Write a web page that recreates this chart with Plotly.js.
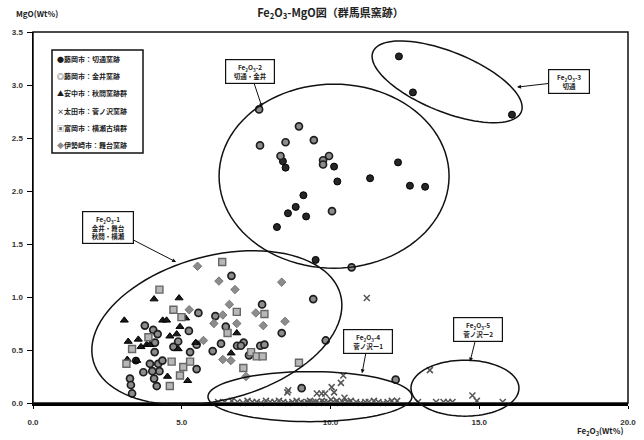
<!DOCTYPE html>
<html><head><meta charset="utf-8">
<script src="https://cdn.plot.ly/plotly-3.0.1.min.js"></script>
<style>html,body{margin:0;padding:0;background:#fff}#chart{width:644px;height:440px}</style>
</head><body><div id="chart"></div>
<script>
// ---- data (Fe2O3 wt%, MgO wt%) ----
const seriesNames = ["藤岡市：切通窯跡","藤岡市：金井窯跡","安中市：秋間窯跡群","太田市：菅ノ沢窯跡","富岡市：横瀬古墳群","伊勢崎市：舞台窯跡"];
const legendGlyphs = ["●","◎","▲","×","▣","◆"];
const legendGlyphColors = ["#1a1a1a","#1a1a1a","#1a1a1a","#444","#666","#8a8a8a"];

const kiridoshiX = [12.30,12.77,16.10,8.49,10.12,10.23,9.09,8.83,8.57,9.18,8.20,9.50,11.33,12.27,12.67,13.18,8.40,3.46];
const kiridoshiY = [3.27,2.93,2.72,2.22,2.23,2.09,1.96,1.85,1.79,1.76,1.66,1.35,2.12,2.27,2.05,2.04,2.28,0.40];

const kanaiX = [7.60,8.94,7.63,8.49,9.44,8.32,9.95,9.75,9.75,10.05,10.71,9.42,9.84,12.19,9.03,
  6.67,7.70,5.56,6.13,6.48,3.76,4.04,4.19,8.36,5.24,4.10,4.72,4.88,5.28,5.50,6.32,6.04,6.86,7.08,6.99,7.64,7.78,7.26,
  3.93,4.21,4.35,3.71,4.01,4.25,4.07,4.16,5.50,3.26,3.29,3.33,4.09];
const kanaiY = [2.77,2.61,2.43,2.46,2.48,2.33,2.33,2.29,2.25,1.81,1.28,0.98,0.59,0.22,0.14,
  1.20,0.93,0.85,0.82,0.72,0.73,0.69,0.65,0.66,0.68,0.57,0.53,0.58,0.48,0.55,0.56,0.49,0.54,0.57,0.54,0.54,0.55,0.45,
  0.37,0.37,0.40,0.29,0.30,0.30,0.23,0.16,0.32,0.23,0.17,0.09,0.48];

const akimaX = [3.07,4.07,4.91,4.36,4.49,3.20,3.54,3.63,3.82,3.17,3.49,4.94,4.60,5.20,4.52,5.47,5.13,3.93,4.83,4.88,6.85,6.66];
const akimaY = [0.78,0.98,0.99,0.78,0.78,0.58,0.60,0.53,0.55,0.41,0.40,0.72,0.63,0.21,0.25,0.57,0.80,0.55,0.65,0.51,0.66,0.47];

const sugenosawaX = [8.55,8.58,9.54,9.70,9.82,10.04,10.12,10.35,10.43,10.47,11.22,13.34,14.77,14.92,
  6.22,6.44,6.68,6.87,7.06,7.21,7.37,7.52,7.66,7.83,7.97,8.12,8.27,8.41,8.58,8.72,8.86,9.01,9.12,9.22,9.31,9.42,9.51,9.62,
  9.71,9.79,9.91,10.02,10.09,10.21,10.32,10.41,10.56,10.68,10.86,11.01,11.17,11.29,11.46,11.61,11.77,11.92,12.06,12.24,
  12.94,13.55,13.80,13.95,14.10,15.79];
const sugenosawaY = [0.10,0.12,0.09,0.09,0.09,0.15,0.10,0.19,0.26,0.05,0.99,0.31,0.07,0.02,
  0.01,0.01,0.02,0.01,0.00,0.02,0.01,0.01,0.00,0.02,0.01,0.01,0.02,0.01,0.00,0.01,0.02,0.01,0.00,0.01,0.02,0.01,0.01,0.00,
  0.02,0.01,0.01,0.03,0.01,0.02,0.00,0.01,0.01,0.02,0.01,0.00,0.01,0.01,0.02,0.01,0.00,0.01,0.02,0.02,
  0.01,0.01,0.01,0.01,0.01,0.01];

const yokoseX = [4.25,4.72,4.99,3.88,3.33,3.14,4.66,5.05,5.28,4.94,4.60,6.36,6.85,7.78,6.54,7.33,7.52,7.72,7.07,8.94];
const yokoseY = [1.07,0.88,0.81,0.62,0.51,0.37,0.39,0.34,0.39,0.26,0.16,1.33,0.86,0.84,0.66,0.48,0.44,0.44,0.33,0.38];

const butaiX = [5.53,5.25,5.73,6.25,6.79,8.36,6.60,6.38,6.08,6.85,7.49,7.74,6.38,6.65,7.16,8.47];
const butaiY = [1.29,0.88,0.59,1.15,1.07,1.14,0.93,0.83,0.75,0.75,0.85,0.73,0.41,0.40,0.25,0.77];

const xTicks = [0,5,10,15,20];
const yTicks = [0,0.5,1.0,1.5,2.0,2.5,3.0,3.5];

// group ellipses: center (data), semi-axes (px), rotation (deg, screen)
const ellipses = [
  {cx:6.18, cy:0.71, a:128, b:72, rot:-15},
  {cx:10.12, cy:2.14, a:115, b:92, rot:0},
  {cx:13.92, cy:3.03, a:80, b:30, rot:22},
  {cx:9.31, cy:0.06, a:102, b:25, rot:0},
  {cx:14.52, cy:0.14, a:54, b:28, rot:0}
];
const groupLabels = [
  {x:4.81, y:1.33, ax:-68, ay:-35, text:"Fe<sub>2</sub>O<sub>3</sub>-1<br>金井・舞台<br>秋間・横瀬", w:46},
  {x:7.70, y:2.79, ax:-12, ay:-36, text:"Fe<sub>2</sub>O<sub>3</sub>-2<br>切通・金井", w:44},
  {x:16.27, y:2.98, ax:52, ay:-6, text:"Fe<sub>2</sub>O<sub>3</sub>-3<br>切通", w:36},
  {x:11.06, y:0.28, ax:6, ay:-32, text:"Fe<sub>2</sub>O<sub>3</sub>-4<br>菅ノ沢ー1", w:44},
  {x:14.69, y:0.39, ax:8, ay:-32, text:"Fe<sub>2</sub>O<sub>3</sub>-5<br>菅ノ沢ー2", w:44}
];

const W=644, H=440, M={l:33,r:16,t:32,b:37};
const PW=W-M.l-M.r, PH=H-M.t-M.b;
const XR=[0,20], YR=[0,3.5];
const pxX = px => (px-M.l)/PW;
const pxY = py => (H-M.b-py)/PH;

function ellipsePath(e){
  const px0 = (e.cx-XR[0])/(XR[1]-XR[0]);
  const py0 = (e.cy-YR[0])/(YR[1]-YR[0]);
  const r = e.rot*Math.PI/180;
  let s="";
  for(let i=0;i<=96;i++){
    const t=i/96*2*Math.PI;
    const u=e.a*Math.cos(t), v=e.b*Math.sin(t);
    const dx=u*Math.cos(r)-v*Math.sin(r);
    const dy=u*Math.sin(r)+v*Math.cos(r);
    const X=px0+dx/PW, Y=py0-dy/PH;
    s += (i===0?"M":"L")+X.toFixed(5)+","+Y.toFixed(5);
  }
  return s+"Z";
}

const ff = "'Noto Sans CJK JP', 'Liberation Sans', sans-serif";
const traces = [
  {x:kiridoshiX,y:kiridoshiY,name:seriesNames[0],mode:"markers",type:"scatter",cliponaxis:false,
   marker:{symbol:"circle",size:7,color:"#262626",line:{color:"#000",width:1}}},
  {x:kanaiX,y:kanaiY,name:seriesNames[1],mode:"markers",type:"scatter",cliponaxis:false,
   marker:{symbol:"circle",size:7,color:"#8c8c8c",line:{color:"#1e1e1e",width:1.7}}},
  {x:akimaX,y:akimaY,name:seriesNames[2],mode:"markers",type:"scatter",cliponaxis:false,
   marker:{symbol:"triangle-up",size:7,color:"#1a1a1a",line:{color:"#000",width:1}}},
  {x:sugenosawaX,y:sugenosawaY,name:seriesNames[3],mode:"markers",type:"scatter",cliponaxis:false,
   marker:{symbol:"x-thin-open",size:6,color:"#555",line:{color:"#555",width:1.5}}},
  {x:yokoseX,y:yokoseY,name:seriesNames[4],mode:"markers",type:"scatter",cliponaxis:false,
   marker:{symbol:"square",size:7,color:"#b8b8b8",line:{color:"#666",width:1.4}}},
  {x:butaiX,y:butaiY,name:seriesNames[5],mode:"markers",type:"scatter",cliponaxis:false,
   marker:{symbol:"diamond",size:6.5,color:"#8c8c8c",line:{color:"#777",width:1}}}
];

const shapes = ellipses.map(e=>({type:"path",xref:"paper",yref:"paper",path:ellipsePath(e),
  line:{color:"#111",width:1.5},fillcolor:"rgba(0,0,0,0)",layer:"above"}));
shapes.push({type:"rect",xref:"paper",yref:"paper",x0:0,x1:1,y0:0,y1:1,line:{color:"#111",width:1.5},layer:"below"});
// legend box
shapes.push({type:"rect",xref:"paper",yref:"paper",x0:pxX(52),x1:pxX(143),y0:pxY(153),y1:pxY(50),
  line:{color:"#111",width:1.5},fillcolor:"#fff",layer:"above"});

const annotations = groupLabels.map(g=>({x:g.x,y:g.y,xref:"x",yref:"y",ax:g.ax,ay:g.ay,text:g.text,
  showarrow:true,arrowhead:2,arrowsize:0.8,arrowwidth:1,arrowcolor:"#111",
  bordercolor:"#111",borderwidth:1.2,borderpad:2,bgcolor:"#fff",width:g.w,
  font:{family:ff,size:6.5,color:"#222",weight:"bold"}}));
seriesNames.forEach((n,i)=>{
  annotations.push({xref:"paper",yref:"paper",x:pxX(55),y:pxY(59+i*17.2),xanchor:"left",yanchor:"middle",showarrow:false,
    text:'<span style="color:'+legendGlyphColors[i]+'">'+legendGlyphs[i]+'</span>'+n,
    font:{family:ff,size:7,color:"#222",weight:"bold"}});
});
annotations.push({xref:"paper",yref:"paper",x:pxX(14),y:pxY(13),xanchor:"left",yanchor:"middle",showarrow:false,
  text:"MgO(Wt%)",font:{family:ff,size:8,color:"#222",weight:"bold"}});
annotations.push({xref:"paper",yref:"paper",x:pxX(600),y:pxY(432),xanchor:"center",yanchor:"middle",showarrow:false,
  text:"Fe<sub>2</sub>O<sub>3</sub>(Wt%)",font:{family:ff,size:8,color:"#222",weight:"bold"}});

const layout = {
  width:W,height:H,margin:M,paper_bgcolor:"#fff",plot_bgcolor:"#fff",
  title:{text:"Fe<sub>2</sub>O<sub>3</sub>-MgO図（群馬県窯跡）",x:0.5,xref:"paper",y:1-13/H,yanchor:"middle",
    font:{family:ff,size:11,color:"#222",weight:"bold"}},
  xaxis:{range:XR,tickvals:xTicks,ticktext:xTicks.map(v=>v.toFixed(1)),showgrid:false,zeroline:false,
    showline:true,linecolor:"#000",linewidth:3,ticks:"outside",ticklen:3,tickcolor:"#000",ticklabelstandoff:6,
    tickfont:{family:"'Liberation Sans', sans-serif",size:8,color:"#333",weight:"bold"}},
  yaxis:{range:YR,tickvals:yTicks,ticktext:yTicks.map(v=>v.toFixed(1)),showgrid:false,zeroline:false,
    showline:true,linecolor:"#000",linewidth:1.5,ticks:"outside",ticklen:5,tickcolor:"#000",ticklabelstandoff:2,
    tickfont:{family:"'Liberation Sans', sans-serif",size:8,color:"#333",weight:"bold"}},
  showlegend:false,
  shapes:shapes,annotations:annotations
};
Plotly.newPlot("chart",traces,layout,{displayModeBar:false,staticPlot:true});
</script></body></html>
